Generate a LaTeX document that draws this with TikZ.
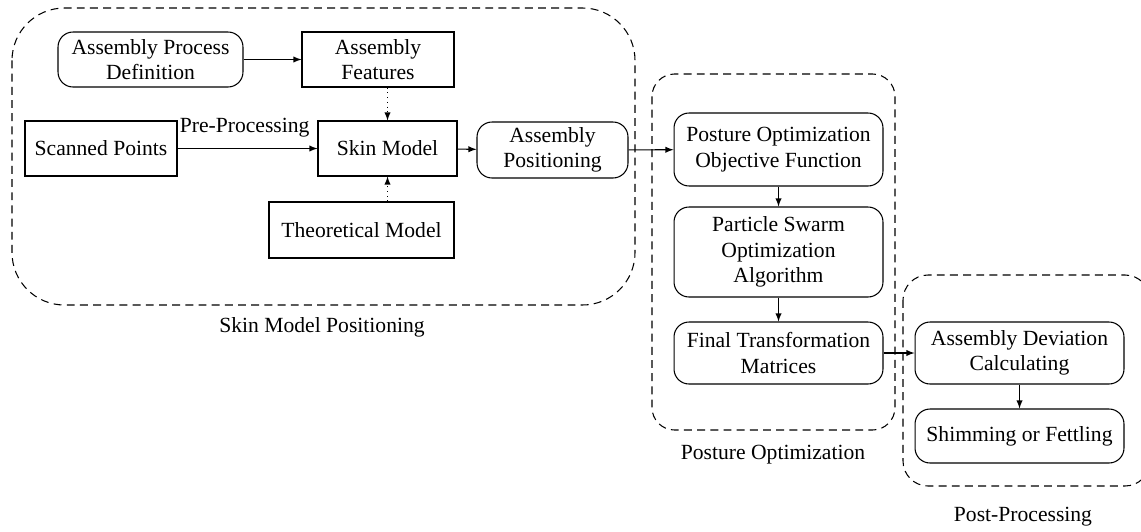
\documentclass[tikz,border=0pt]{standalone}
\usepackage{fontspec}
\setmainfont{Liberation Serif}
\usetikzlibrary{arrows, shapes, positioning, calc}

\begin{document}
\begin{tikzpicture}[x=0.02cm, y=-0.02cm,
    font=\fontsize{12.3}{14.4}\selectfont,
    blk/.style={shape=rectangle, draw=black, line width=0.6pt, align=center, inner sep=2pt},
    rblk/.style={blk, rounded corners=0.3cm},
    group/.style={draw=black, line width=0.6pt, dash pattern=on 4.5pt off 3pt},
    arr/.style={-latex, line width=0.6pt},
    darr/.style={-latex, line width=0.6pt, dash pattern=on 0.7pt off 2pt}]
    \useasboundingbox (0,0) rectangle (1141,531);
    % dashed groups
    \draw[group, rounded corners=1.05cm] (12,8) rectangle (635,305);
    \draw[group, rounded corners=0.45cm] (652,74) rectangle (895,430);
    \draw[group, rounded corners=0.5cm] (903,275) rectangle (1150,486);
    \node (lskin) at (322,327) {Skin Model Positioning};
    \node (lpost) at (773,455) {Posture Optimization};
    \node (lproc) at (1023,517) {Post-Processing};
    % skin model positioning
    \node[rblk, minimum width=3.7cm, minimum height=1.1cm] (apd) at (150.5,59.5) {Assembly Process\\Definition};
    \node[blk, minimum width=3.04cm, minimum height=1.1cm] (af) at (378,59.5) {Assembly\\Features};
    \node[blk, minimum width=3.04cm, minimum height=1.1cm] (sp) at (101,148.5) {Scanned Points};
    \node[blk, minimum width=2.78cm, minimum height=1.1cm] (sm) at (387.5,148.5) {Skin Model};
    \node[blk, minimum width=3.7cm, minimum height=1.12cm] (tm) at (361.5,230) {Theoretical Model};
    \node[rblk, minimum width=3.02cm, minimum height=1.12cm] (ap) at (552.5,150) {Assembly\\Positioning};
    % posture optimization
    \node[rblk, minimum width=4.18cm, minimum height=1.46cm] (poof) at (778.5,149.5) {Posture Optimization\\Objective Function};
    \node[rblk, minimum width=4.18cm, minimum height=1.8cm] (psoa) at (778.5,252) {Particle Swarm\\Optimization\\Algorithm};
    \node[rblk, minimum width=4.18cm, minimum height=1.24cm] (ftm) at (778.5,353) {Final Transformation\\Matrices};
    % post-processing
    \node[rblk, minimum width=4.18cm, minimum height=1.24cm] (adc) at (1019.5,353) {Assembly Deviation\\Calculating};
    \node[rblk, minimum width=4.18cm, minimum height=1.08cm] (sf) at (1019.5,436) {Shimming or Fettling};
    % connectors
    \path (apd) edge[arr] (af);
    \path (sp) edge[arr] node[above=3pt, pos=0.48] {Pre-Processing} (sm);
    \path (af.south -| sm.north) edge[darr] (sm.north);
    \path (tm.north -| sm.south) edge[darr] (sm.south);
    \path (sm) edge[arr] (ap);
    \path (ap) edge[arr] (poof);
    \path (poof) edge[arr] (psoa);
    \path (psoa) edge[arr] (ftm);
    \path (ftm) edge[arr] (adc);
    \path (adc) edge[arr] (sf);
\end{tikzpicture}
\end{document}
